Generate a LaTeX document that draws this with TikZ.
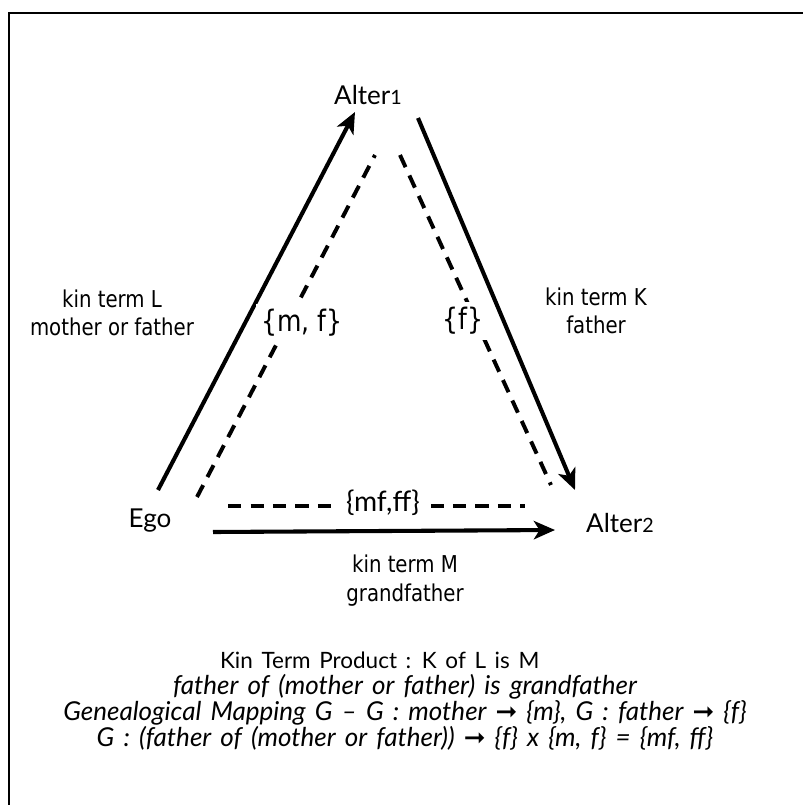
\documentclass[tikz,border=0pt]{standalone}
\usepackage{fontspec}
\setmainfont{Lato}
\newfontfamily\labelfont[FakeStretch=0.85]{DejaVu Sans}
\newfontfamily\prodfont[WordSpace=1.5]{Lato}
\newfontfamily\arrowfont{DejaVu Sans}
\usepackage{tikz}
\usetikzlibrary{arrows.meta}

\newcommand{\maparrow}{{\arrowfont\upshape ➞}}

\tikzset{
  kin/.style={font=\fontsize{18.5}{22}\selectfont},
  lbl/.style={font=\labelfont\fontsize{16.5}{19.5}\selectfont, align=center},
  kinarrow/.style={line width=2.9pt, -{Stealth[length=15pt,width=13pt,inset=4pt]}},
  mapline/.style={line width=2.8pt, dash pattern=on 9.5pt off 6.5pt},
  setlbl/.style={fill=white, inner sep=4pt, font=\labelfont\fontsize{21}{22}\selectfont}
}

\begin{document}
\begin{tikzpicture}[x=0.025cm,y=-0.025cm]
\useasboundingbox (0,0) rectangle (803,805);
\draw[line width=1.5pt] (9,810) -- (9,13) -- (810,13);

% kin positions
\node[kin] (alterA) at (368,95) {Alter{\fontsize{14}{15}\selectfont 1}};
\node[kin] (ego) at (150,521) {Ego};
\node[kin] (alterB) at (620,523) {Alter{\fontsize{14}{15}\selectfont 2}};

% kin terms
\draw[kinarrow] ([shift={(8,-31)}]ego.center) -- ([shift={(-13,17)}]alterA.center);
\draw[kinarrow] ([shift={(50,23)}]alterA.center) -- ([shift={(-45,-33)}]alterB.center);
\draw[kinarrow] ([shift={(63,11)}]ego.center) -- ([shift={(-65,7)}]alterB.center);

\node[lbl] (termL) at (112,313) {kin term L\\mother or father};
\node[lbl] (termK) at (596,311) {kin term K\\father};
\node[lbl, font=\labelfont\fontsize{16.5}{20.5}\selectfont] (termM) at (405,581) {kin term M\\grandfather};

% genealogical mapping
\draw[mapline] ([shift={(47,-24)}]ego.center) -- ([shift={(7,60)}]alterA.center);
\draw[mapline] ([shift={(32,60)}]alterA.center) -- ([shift={(-69,-38)}]alterB.center);
\draw[mapline] ([shift={(78,-15)}]ego.center) -- ([shift={(-95,-17)}]alterB.center);

\node[setlbl] (setL) at (302,323) {\{m, f\}};
\node[setlbl] (setK) at (463,321) {\{f\}};
\node[setlbl, inner xsep=8pt, font=\fontsize{20}{22}\selectfont] (setM) at (383,503) {\{mf,ff\}};

% product
\node[align=center, font=\prodfont\fontsize{16}{18.3}\selectfont] (product) at (405,701)
  {Kin Term Product : K of L is M\hspace*{36pt}\\
   {\fontsize{18.5}{18.3}\selectfont\itshape father of (mother or father) is grandfather}\\
   {\fontsize{18.5}{18.3}\selectfont\itshape Genealogical Mapping G – G : mother \maparrow{} \{m\}, G : father \maparrow{} \{f\}}\\
   {\fontsize{18.5}{18.3}\selectfont\itshape G : (father of (mother or father)) \maparrow{} \{f\} x \{m, f\} = \{mf, ff\}}};
\end{tikzpicture}
\end{document}
